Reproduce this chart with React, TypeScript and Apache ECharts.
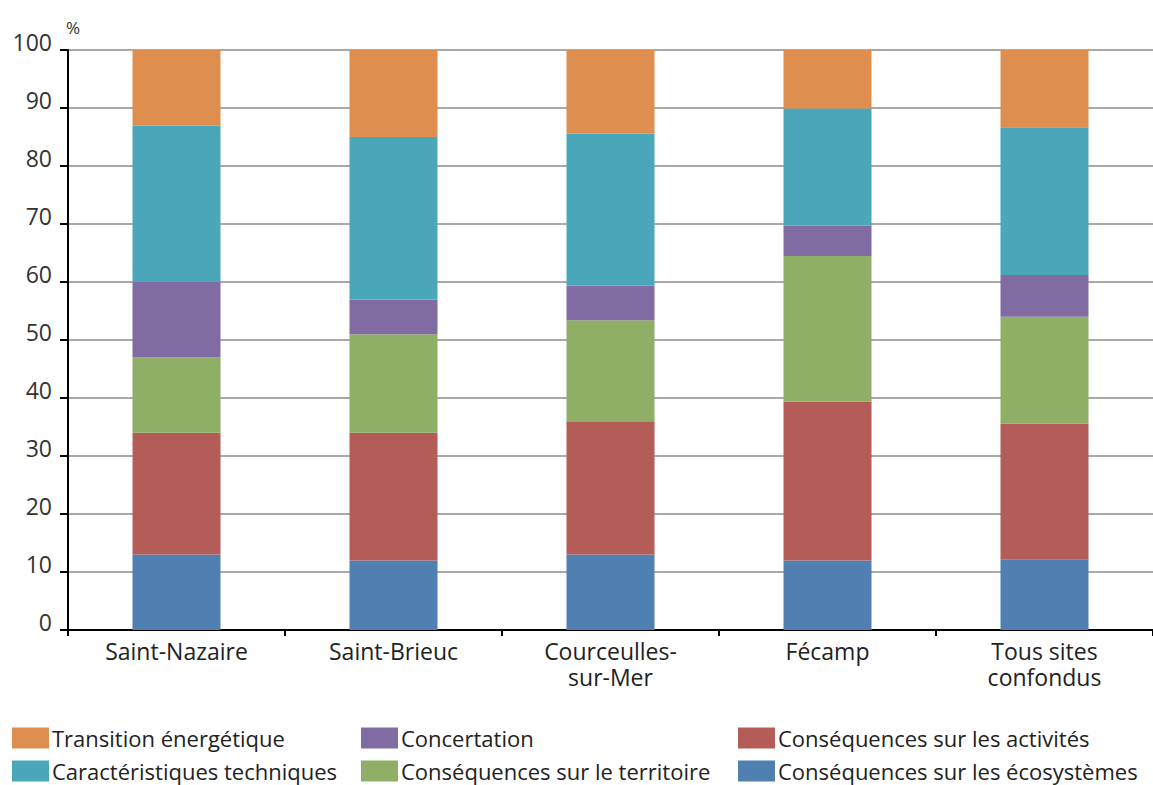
import React, { useEffect, useRef } from "react";
import * as echarts from "echarts";

const categories = ["Saint-Nazaire", "Saint-Brieuc", "Courceulles-\nsur-Mer", "Fécamp", "Tous sites\nconfondus"];
const yTicks = [0, 10, 20, 30, 40, 50, 60, 70, 80, 90, 100];

const ecosystemes = [13, 12, 13, 12, 12.1];
const activites = [21, 22, 23, 27.4, 23.5];
const territoire = [13, 17, 17.4, 25.1, 18.4];
const concertation = [13, 6, 6, 5.2, 7.2];
const techniques = [27, 28, 26.2, 20.2, 25.5];
const transition = [13, 15, 14.4, 10.1, 13.3];

const seriesNames = [
  "Conséquences sur les écosystèmes",
  "Conséquences sur les activités",
  "Conséquences sur le territoire",
  "Concertation",
  "Caractéristiques techniques",
  "Transition énergétique",
];
const seriesData = [ecosystemes, activites, territoire, concertation, techniques, transition];
const colors = ["#5080b2", "#b45c58", "#8fae66", "#806ca3", "#4aa7ba", "#de8f4f"];

const legendItems = [
  "Transition énergétique",
  "Caractéristiques techniques",
  "Concertation",
  "Conséquences sur le territoire",
  "Conséquences sur les activités",
  "Conséquences sur les écosystèmes",
];
const legendLefts = [12, 12, 361, 361, 738, 738];
const legendTops = [727, 760, 727, 760, 727, 760];

export default function App() {
  const ref = useRef<HTMLDivElement>(null);
  useEffect(() => {
    if (!ref.current) return;
    const chart = echarts.init(ref.current, null, { renderer: "svg" });
    const font = "'Open Sans', 'Noto Sans', sans-serif";
    chart.setOption({
      animation: false,
      backgroundColor: "#ffffff",
      textStyle: { fontFamily: font },
      grid: { left: 68, right: 0, top: 50, bottom: 155, containLabel: false },
      legend: legendItems.map((name, i) => ({
        data: [name],
        left: legendLefts[i],
        top: legendTops[i],
        padding: 0,
        itemWidth: 37,
        itemHeight: 21,
        itemGap: 0,
        icon: "rect",
        selectedMode: false,
        textStyle: { fontFamily: font, fontSize: 22, lineHeight: 22, color: "#222", padding: [0, 0, 0, -2] },
      })),
      xAxis: {
        type: "category",
        data: categories,
        axisLine: { lineStyle: { color: "#000", width: 2 } },
        axisTick: { show: true, length: 6, lineStyle: { color: "#000", width: 2 } },
        axisLabel: { fontSize: 23, color: "#222", lineHeight: 26, margin: 8, fontFamily: font },
        splitLine: { show: false },
      },
      yAxis: {
        type: "value",
        min: 0,
        max: 100,
        interval: 10,
        name: "%",
        nameLocation: "end",
        nameGap: 14,
        nameTextStyle: { fontSize: 17, color: "#333", align: "left", padding: [0, 0, 0, -2], fontFamily: font },
        axisLine: { show: true, lineStyle: { color: "#000", width: 2 } },
        axisTick: { show: true, length: 8, lineStyle: { color: "#000", width: 2 } },
        axisLabel: {
          fontSize: 23,
          color: "#333",
          margin: 16,
          verticalAlign: "bottom",
          lineHeight: 16,
          fontFamily: font,
          formatter: (v: number) => (yTicks.includes(v) ? String(v) : ""),
        },
        splitLine: { show: true, lineStyle: { color: "#8c8c8c", width: 1.5 } },
      },
      series: seriesNames.map((name, i) => ({
        name,
        type: "bar",
        stack: "total",
        data: seriesData[i],
        barWidth: 88,
        itemStyle: { color: colors[i] },
        emphasis: { disabled: true },
      })),
    });
    return () => chart.dispose();
  }, []);
  return <div ref={ref} style={{ width: 1153, height: 785, position: "absolute", left: 0, top: 0 }} />;
}
